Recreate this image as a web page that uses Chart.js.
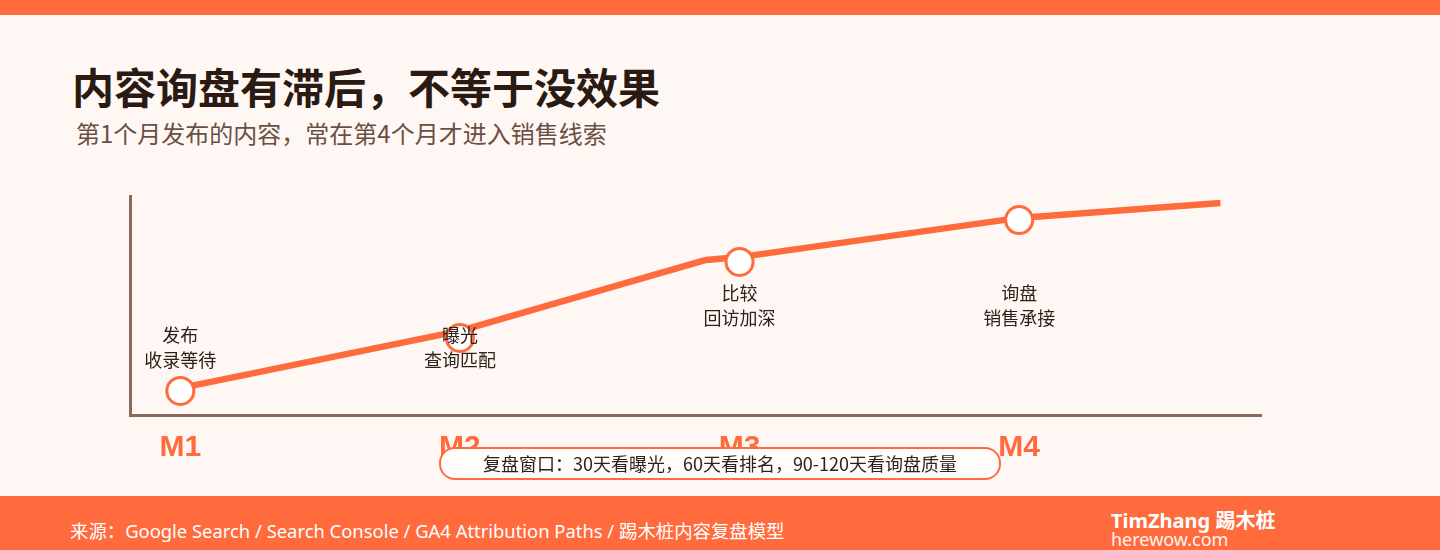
<!DOCTYPE html>
<html>
<head>
<meta charset="utf-8">
<script src="https://cdn.jsdelivr.net/npm/chart.js@4.4.1/dist/chart.umd.min.js"></script>
<style>
  html, body { margin: 0; padding: 0; }
  body { width: 1440px; height: 550px; position: relative; overflow: hidden; background: #FFF7F3;
         font-family: "Noto Sans", "Noto Sans CJK SC", sans-serif; }
  #topbar { position: absolute; left: 0; top: 0; width: 1440px; height: 15px; background: #FF6B3D; }
  #title { position: absolute; left: 72px; top: 58px; font-family: "Noto Sans CJK SC", sans-serif;
           font-weight: 700; font-size: 42px; line-height: 56px; color: #2A1A12; white-space: nowrap; }
  #subtitle { position: absolute; left: 76px; top: 116px; font-family: "Noto Sans CJK SC", sans-serif;
           font-size: 24px; line-height: 34px; color: #6B4F43; white-space: nowrap; }
  #chartWrap { position: absolute; left: 0; top: 0; width: 1440px; height: 550px; }
  #callout { position: absolute; left: 439px; top: 447px; width: 558px; height: 29px; border: 2px solid #FF6B3D;
             border-radius: 16px; background: #FFFDFC; font-family: "Noto Sans CJK SC", sans-serif;
             font-size: 18px; line-height: 29px; color: #2E211B; text-align: center; white-space: nowrap; }
  #footer { position: absolute; left: 0; top: 496px; width: 1440px; height: 54px; background: #FF6B3D; }
  #source { position: absolute; left: 70px; top: 518px; font-size: 18.4px; line-height: 26px; color: #FFFFFF; white-space: nowrap; }
  #brand { position: absolute; left: 1111px; top: 509px; font-size: 20px; line-height: 24px; font-weight: 700; color: #FFFFFF; white-space: nowrap; }
  #site { position: absolute; left: 1111px; top: 528px; font-size: 18px; line-height: 22px; color: #FFF3EE; white-space: nowrap; }
</style>
</head>
<body>
<div id="topbar"></div>
<div id="title">内容询盘有滞后，不等于没效果</div>
<div id="subtitle">第1个月发布的内容，常在第4个月才进入销售线索</div>
<div id="chartWrap"><canvas id="c" width="1440" height="550"></canvas></div>
<div id="callout">复盘窗口：30天看曝光，60天看排名，90-120天看询盘质量</div>
<div id="footer"></div>
<div id="source">来源：Google Search / Search Console / GA4 Attribution Paths / 踢木桩内容复盘模型</div>
<div id="brand">TimZhang 踢木桩</div>
<div id="site">herewow.com</div>
<script>
// ---- data ----
const monthTicks = [1, 2, 3, 4];
const monthLabels = ["M1", "M2", "M3", "M4"];
// trend line (month position, lead index)
const lineX = [1, 2, 2.88, 3, 4, 4.72];
const lineY = [12.3, 38.4, 70.8, 72.1, 90.0, 96.8];
// milestone markers
const markerX = [1, 2, 3, 4];
const markerY = [11.0, 35.2, 69.9, 89.0];
// stage annotations
const stageTop = ["发布", "曝光", "比较", "询盘"];
const stageBottom = ["收录等待", "查询匹配", "回访加深", "销售承接"];
const stageLabelY = [36.5, 36.5, 55.7, 55.7];

const ORANGE = "#FF6B3D";
const AXIS = "#8A6A5A";
const TEXT = "#2E211B";

const stagePlugin = {
  id: "stageLabels",
  afterDatasetsDraw(chart) {
    const ctx = chart.ctx;
    const xs = chart.scales.x, ys = chart.scales.y;
    ctx.save();
    ctx.fillStyle = TEXT;
    ctx.font = '18px "Noto Sans CJK SC", sans-serif';
    ctx.textAlign = "center";
    ctx.textBaseline = "middle";
    for (let i = 0; i < markerX.length; i++) {
      const px = xs.getPixelForValue(markerX[i]);
      const py = ys.getPixelForValue(stageLabelY[i]);
      ctx.fillText(stageTop[i], px, py);
      ctx.fillText(stageBottom[i], px, py + 25);
    }
    ctx.restore();
  }
};

new Chart(document.getElementById("c"), {
  type: "line",
  data: {
    datasets: [
      {
        type: "scatter",
        data: markerX.map((x, i) => ({ x, y: markerY[i] })),
        pointRadius: 13.5,
        pointHoverRadius: 13.5,
        pointBackgroundColor: "#FFFFFF",
        pointBorderColor: ORANGE,
        pointBorderWidth: 3,
        showLine: false,
        order: 0,
        clip: false
      },
      {
        type: "line",
        data: lineX.map((x, i) => ({ x, y: lineY[i] })),
        borderColor: ORANGE,
        borderWidth: 6.5,
        borderCapStyle: "butt",
        borderJoinStyle: "round",
        pointRadius: 0,
        tension: 0,
        fill: false,
        order: 1,
        clip: false
      }
    ]
  },
  options: {
    responsive: false,
    animation: false,
    events: [],
    layout: { padding: { left: 0, right: 179, top: 196, bottom: 0 } },
    plugins: { legend: { display: false }, tooltip: { enabled: false }, title: { display: false } },
    scales: {
      x: {
        type: "linear",
        min: 0.82,
        max: 4.865,
        afterFit(scale) { scale.height = 135; },
        afterBuildTicks(scale) { scale.ticks = monthTicks.map(v => ({ value: v })); },
        grid: { display: false, drawTicks: false },
        border: { display: true, color: AXIS, width: 3 },
        ticks: {
          autoSkip: false,
          maxRotation: 0,
          padding: 15,
          color: ORANGE,
          font: { family: '"Liberation Sans", Arial, sans-serif', size: 30, weight: "bold" },
          callback: (v) => monthLabels[monthTicks.indexOf(v)] || ""
        }
      },
      y: {
        min: 0,
        max: 100,
        afterFit(scale) { scale.width = 130; },
        grid: { display: false, drawTicks: false },
        border: { display: true, color: AXIS, width: 3 },
        ticks: { display: false }
      }
    }
  },
  plugins: [stagePlugin]
});
</script>
</body>
</html>
